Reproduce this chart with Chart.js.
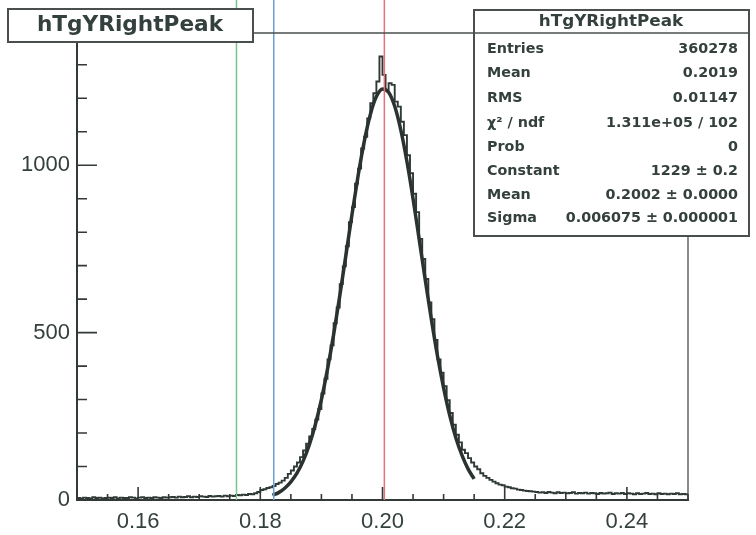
<!DOCTYPE html>
<html>
<head>
<meta charset="utf-8">
<script src="https://cdn.jsdelivr.net/npm/chart.js@4/dist/chart.umd.min.js"></script>
<style>
  html, body { margin: 0; padding: 0; background: #ffffff; }
  canvas { display: block; }
</style>
</head>
<body>
<canvas id="c" width="756" height="535"></canvas>
<script>
// ---------- data ----------
const histTitle = "hTgYRightPeak";
const xMin = 0.15;
const xMax = 0.25;
const binWidth = 0.0005;
const yMax = 1395;

const countsLeftTail = [6,5,7,6,5,8,6,7,5,6,7,6,8,5,7,6,6,8,7,5,7,8,6,7,6,8,7,6,8,7,
                        8,9,7,10,8,9,11,8,10,9,11,10,9,12,10,11,12,10,13,11,
                        13,12,15,14,16,15,18,17,20,24];
const countsRise = [30,32,36,38,42,48,52,58,66,78,88,100,112,128,148,168,190,212,240,272,
                    318,362,420,462,528,575,645,698,758,830,875,945,990,1050,1085,1140,1185,1215,1250,1325];
const countsFall = [1270,1225,1245,1240,1190,1175,1130,1090,1030,976,915,860,780,720,660,590,540,478,420,380,
                    340,298,260,225,195,172,150,140,125,112,100,92,80,72,66,60,55,50,46,44,
                    40,38,35,34,31,30,28,27,26,25];
const countsRightTail = [24,22,23,21,24,22,20,23,21,22,20,21,23,19,21,20,22,19,21,20,
                         18,21,19,20,22,18,20,19,21,18,20,19,17,20,18,19,21,18,19,17,
                         20,18,19,17,19,18,20,17,18,17];

const fitX = [0.182,0.183,0.184,0.185,0.186,0.187,0.188,0.189,0.190,0.191,0.192,0.193,0.194,0.195,0.196,0.197,0.198,0.199,
              0.200,0.201,0.202,0.203,0.204,0.205,0.206,0.207,0.208,0.209,0.210,0.211,0.212,0.213,0.214,0.215];
const fitY = [14,22,35,54,80,116,164,225,300,391,494,609,730,852,968,1070,1151,1205,
              1228,1218,1176,1105,1011,900,779,657,539,430,335,253,186,134,93,63];

const cutValues = [0.1761, 0.1822, 0.2003];
const cutColors = ["#7cc28f", "#6b9fd6", "#e8707c"];
const lineTop = 1500;

const xTickValues = [0.15,0.155,0.16,0.165,0.17,0.175,0.18,0.185,0.19,0.195,0.20,0.205,0.21,0.215,0.22,0.225,0.23,0.235,0.24,0.245,0.25];
const xLabelValues = [0.16, 0.18, 0.20, 0.22, 0.24];
const yTickValues = [0,100,200,300,400,500,600,700,800,900,1000,1100,1200,1300];
const yLabelValues = [0, 500, 1000];

const statLabels = ["Entries", "Mean", "RMS", "\u03C7\u00B2 / ndf", "Prob", "Constant", "Mean", "Sigma"];
const statValues = ["360278", "0.2019", "0.01147", "1.311e+05 / 102", "0", "1229 \u00B1 0.2", "0.2002 \u00B1 0.0000", "0.006075 \u00B1 0.000001"];

// ---------- build datasets ----------
const counts = countsLeftTail.concat(countsRise, countsFall, countsRightTail);
const histPts = counts.map((c, i) => ({ x: xMin + i * binWidth, y: c }));
histPts.push({ x: xMax, y: counts[counts.length - 1] });

const fitPts = fitX.map((x, i) => ({ x: x, y: fitY[i] }));

const TEXT = "#34403d";
const AXIS = "#333937";

const cutSets = cutValues.map((v, i) => ({
  data: [{ x: v, y: 0 }, { x: v, y: lineTop }],
  borderColor: cutColors[i],
  borderWidth: 1.5,
  pointRadius: 0,
  clip: false,
  order: 2 - i
}));

function near(a, b) { return Math.abs(a - b) < 1e-7; }
function isLabel(v, list) { return list.some(l => near(l, v)); }

function txt(ctx, s, x, y, align, sx) {
  ctx.save();
  ctx.translate(x, y);
  ctx.scale(sx, 1);
  ctx.textAlign = align;
  ctx.textBaseline = "middle";
  ctx.fillText(s, 0, 0);
  ctx.restore();
}

const decor = {
  id: "decor",
  beforeDraw(chart) {
    const ctx = chart.ctx;
    ctx.save();
    ctx.fillStyle = "#ffffff";
    ctx.fillRect(0, 0, chart.width, chart.height);
    ctx.restore();
  },
  afterDraw(chart) {
    const ctx = chart.ctx;
    const a = chart.chartArea;
    const xs = chart.scales.x, ys = chart.scales.y;
    ctx.save();
    // frame top and right
    ctx.strokeStyle = "#4a4f4d";
    ctx.lineWidth = 1.3;
    ctx.beginPath();
    ctx.moveTo(a.left, a.top); ctx.lineTo(a.right, a.top); ctx.lineTo(a.right, a.bottom);
    ctx.stroke();
    // inward ticks
    ctx.strokeStyle = AXIS;
    ctx.lineWidth = 1.6;
    ctx.beginPath();
    xTickValues.forEach(v => {
      const px = xs.getPixelForValue(v);
      const len = isLabel(v, xLabelValues) ? 13 : 6;
      ctx.moveTo(px, a.bottom); ctx.lineTo(px, a.bottom - len);
    });
    yTickValues.forEach(v => {
      const py = ys.getPixelForValue(v);
      const len = isLabel(v, yLabelValues) ? 20 : 10;
      ctx.moveTo(a.left, py); ctx.lineTo(a.left + len, py);
    });
    ctx.stroke();

    // title box
    ctx.fillStyle = "#ffffff";
    ctx.fillRect(8, 9, 245, 33);
    ctx.strokeStyle = "#4a4f4d";
    ctx.lineWidth = 2;
    ctx.strokeRect(8, 9, 245, 33);
    ctx.fillStyle = TEXT;
    ctx.font = 'bold 21px "DejaVu Sans"';
    txt(ctx, histTitle, 130, 26, "center", 1.03);

    // stats box
    ctx.fillStyle = "#ffffff";
    ctx.fillRect(474, 10, 275, 226);
    ctx.strokeStyle = "#4a4f4d";
    ctx.lineWidth = 2;
    ctx.strokeRect(474, 10, 275, 226);
    ctx.lineWidth = 1.5;
    ctx.beginPath();
    ctx.moveTo(474, 33); ctx.lineTo(749, 33);
    ctx.stroke();
    ctx.fillStyle = TEXT;
    ctx.font = 'bold 15px "DejaVu Sans"';
    txt(ctx, histTitle, 611, 22, "center", 1.12);
    const rowsY = [49, 73, 98, 123, 147, 171, 195, 218];
    ctx.font = 'bold 13.5px "DejaVu Sans"';
    statLabels.forEach((s, i) => {
      txt(ctx, s, 487, rowsY[i], "left", 1.06);
      txt(ctx, statValues[i], 738, rowsY[i], "right", 1.06);
    });
    ctx.restore();
  }
};

new Chart(document.getElementById("c"), {
  type: "line",
  data: {
    datasets: [
      ...cutSets,
      {
        data: fitPts,
        borderColor: "#2b3331",
        borderWidth: 3.5,
        pointRadius: 0,
        cubicInterpolationMode: "monotone",
        order: 3
      },
      {
        data: histPts,
        borderColor: "#2f3936",
        borderWidth: 1.9,
        pointRadius: 0,
        stepped: true,
        order: 4
      }
    ]
  },
  options: {
    responsive: false,
    animation: false,
    devicePixelRatio: 1,
    layout: { padding: { left: 0, top: 33, right: 68, bottom: 0 } },
    plugins: { legend: { display: false }, tooltip: { enabled: false } },
    scales: {
      x: {
        type: "linear",
        min: xMin,
        max: xMax,
        grid: { display: false, drawTicks: false },
        border: { display: true, color: AXIS, width: 2 },
        afterBuildTicks: s => { s.ticks = xLabelValues.map(v => ({ value: v })); },
        ticks: {
          autoSkip: false,
          maxRotation: 0,
          padding: 9,
          color: TEXT,
          font: { family: '"Liberation Sans", Arial, sans-serif', size: 22 },
          callback: v => Number(v).toFixed(2)
        },
        afterFit: s => { s.height = 35; }
      },
      y: {
        type: "linear",
        min: 0,
        max: yMax,
        grid: { display: false, drawTicks: false },
        border: { display: true, color: AXIS, width: 2 },
        afterBuildTicks: s => { s.ticks = yLabelValues.map(v => ({ value: v })); },
        ticks: {
          autoSkip: false,
          padding: 7,
          color: TEXT,
          font: { family: '"Liberation Sans", Arial, sans-serif', size: 22 },
          callback: v => String(v)
        },
        afterFit: s => { s.width = 77; }
      }
    }
  },
  plugins: [decor]
});
</script>
</body>
</html>
